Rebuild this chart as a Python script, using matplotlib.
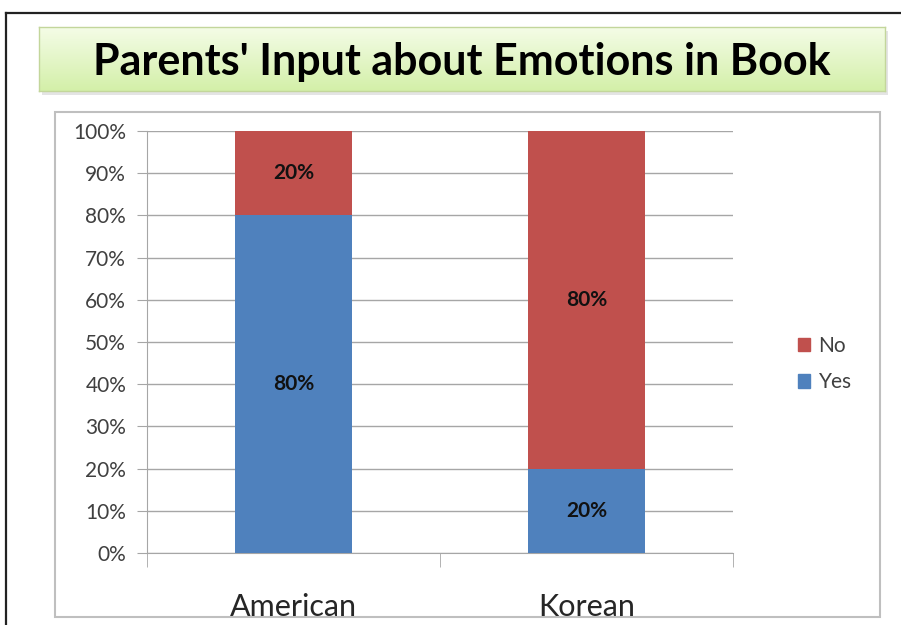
import matplotlib
matplotlib.use('Agg')
import matplotlib.pyplot as plt
import numpy as np
from matplotlib.patches import Rectangle, Patch
from matplotlib.lines import Line2D
from matplotlib.ticker import FixedLocator, PercentFormatter

#Data
title = "Parents' Input about Emotions in Book"
categories = ['American', 'Korean']
yes = [80, 20]
no = [20, 80]

#Style
W, H = 901, 625
blue = '#4f81bd'
red = '#c0504d'
grid_col = '#a6a6a6'
txt_col = '#404040'
plt.rcParams['font.family'] = ['Lato', 'DejaVu Sans']

fig = plt.figure(figsize=(W / 100, H / 100), dpi=100)

def px(x0, y0, x1, y1):
    # pixel box (top-left origin) -> figure fraction rect
    return [x0 / W, 1 - y1 / H, (x1 - x0) / W, (y1 - y0) / H]

#Outer black frame
fig.add_artist(Line2D([6 / W, 1], [1 - 13 / H] * 2, color='#222222', lw=1.6, transform=fig.transFigure))
fig.add_artist(Line2D([6 / W] * 2, [0, 1 - 13 / H], color='#222222', lw=1.6, transform=fig.transFigure))

#Title box with gradient and shadow
fig.add_artist(Rectangle((42 / W, 1 - 95 / H), (885 - 39) / W, (91 - 27) / H,
                         transform=fig.transFigure, facecolor='#d9d9d9', edgecolor='none',
                         alpha=0.7, zorder=-2))
tax = fig.add_axes(px(39, 27, 885, 91))
grad = np.linspace(0, 1, 100)[:, None]
top = np.array([0.96, 0.99, 0.91])
bot = np.array([0.83, 0.94, 0.66])
img = top[None, None, :] * (1 - grad[..., None]) + bot[None, None, :] * grad[..., None]
tax.imshow(img, aspect='auto', extent=[0, 1, 0, 1])
tax.set_xticks([])
tax.set_yticks([])
for s in tax.spines.values():
    s.set_color('#c3d69b')
    s.set_linewidth(1)
tax.text(0.5, 0.45, title, ha='center', va='center', fontsize=31, fontweight='bold', color='black')

#Chart area border
fig.add_artist(Rectangle((55 / W, 1 - 617 / H), (880 - 55) / W, (617 - 112) / H,
                         transform=fig.transFigure, facecolor='white', edgecolor='#bfbfbf',
                         lw=1.5, zorder=-2))

ax = fig.add_axes(px(147, 131, 733, 553))
ax.set_facecolor('none')
x = np.arange(len(categories))
b1 = ax.bar(x, yes, width=0.4, color=blue, label='Yes', zorder=3)
b2 = ax.bar(x, no, width=0.4, bottom=yes, color=red, label='No', zorder=3)
for bars, vals in ((b1, yes), (b2, no)):
    ax.bar_label(bars, labels=[f'{v}%' for v in vals], label_type='center',
                 fontsize=15, fontweight='bold', color='#111111')

ax.set_xlim(-0.5, len(categories) - 0.5)
ax.set_ylim(0, 100)
ax.set_yticks(np.arange(0, 101, 10))
ax.yaxis.set_major_formatter(PercentFormatter(decimals=0))
ax.yaxis.grid(True, color=grid_col, lw=1)
ax.set_axisbelow(True)
ax.tick_params(axis='y', direction='out', length=7, color=grid_col, labelsize=15, labelcolor=txt_col, pad=8)
ax.set_xticks(x)
ax.set_xticklabels(categories)
ax.tick_params(axis='x', length=0, labelsize=22, labelcolor='#262626', pad=29)
ax.xaxis.set_minor_locator(FixedLocator(np.arange(-0.5, len(categories), 1)))
ax.tick_params(axis='x', which='minor', direction='out', length=10, color=grid_col)
for side in ('top', 'right'):
    ax.spines[side].set_visible(False)
for side in ('left', 'bottom'):
    ax.spines[side].set_color(grid_col)

handles = [Patch(color=red, label='No'), Patch(color=blue, label='Yes')]
fig.legend(handles=handles, loc='center left', bbox_to_anchor=(779 / W, 1 - 364 / H),
           frameon=False, fontsize=15, handlelength=0.6, handleheight=0.6,
           handletextpad=0.4, labelspacing=0.8, labelcolor=txt_col)

fig.savefig('out.png', dpi=100)
